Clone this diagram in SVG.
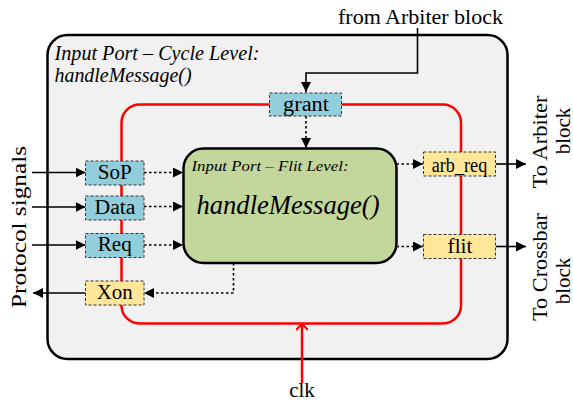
<svg xmlns="http://www.w3.org/2000/svg" width="573" height="402" viewBox="0 0 573 402">
  <style>
    text { font-family: "Liberation Serif", "Times New Roman", serif; fill: #000; }
    .it { font-style: italic; }
    .lbl { font-size: 20px; text-anchor: middle; }
    .ext { font-size: 21px; }
    .reg-blue { fill: #92cddc; stroke: #333; stroke-width: 1; stroke-dasharray: 3 2; }
    .reg-yel { fill: #ffe699; stroke: #333; stroke-width: 1; stroke-dasharray: 3 2; }
    .wire { fill: none; stroke: #000; stroke-width: 1.6; }
    .dot { fill: none; stroke: #000; stroke-width: 1.6; stroke-dasharray: 2.5 2.5; }
  </style>
  <defs>
    <marker id="ah" viewBox="0 0 10 10" refX="10" refY="5" markerWidth="10" markerHeight="10" markerUnits="userSpaceOnUse" orient="auto">
      <path d="M0,0 L10,5 L0,10 z" fill="#000"/>
    </marker>
    <marker id="clkhead" viewBox="0 0 12 12" refX="6" refY="1" markerWidth="12" markerHeight="12" markerUnits="userSpaceOnUse" orient="0">
      <path d="M0,7 L6,1 L12,7" fill="none" stroke="#ff0000" stroke-width="2.2"/>
    </marker>
  </defs>

  <!-- cycle-level input port container -->
  <g id="cycle-port">
    <rect x="47.5" y="35" width="460" height="324" rx="20" ry="20" fill="#f1f1f1" stroke="#000" stroke-width="2.5"/>
    <text class="it" x="54.5" y="60" font-size="20" textLength="205" lengthAdjust="spacingAndGlyphs">Input Port – Cycle Level:</text>
    <text class="it" x="54.5" y="82" font-size="20" textLength="137" lengthAdjust="spacingAndGlyphs">handleMessage()</text>
  </g>

  <!-- clock domain loop -->
  <g id="clock-loop">
    <rect x="121.5" y="104.5" width="339.5" height="219" rx="18" ry="18" fill="none" stroke="#ff0000" stroke-width="2.5"/>
  </g>

  <!-- connectors -->
  <g id="connectors">
    <!-- grant from arbiter -->
    <polyline class="wire" points="417.5,28 417.5,73 306,73 306,92" marker-end="url(#ah)"/>
    <line class="dot" x1="306" y1="116" x2="306" y2="148" marker-end="url(#ah)"/>
    <!-- protocol inputs -->
    <line class="wire" x1="32" y1="172.5" x2="85.5" y2="172.5" marker-end="url(#ah)"/>
    <line class="wire" x1="32" y1="207" x2="85.5" y2="207" marker-end="url(#ah)"/>
    <line class="wire" x1="32" y1="245" x2="85.5" y2="245" marker-end="url(#ah)"/>
    <line class="dot" x1="144" y1="172.5" x2="183" y2="172.5" marker-end="url(#ah)"/>
    <line class="dot" x1="144" y1="206.5" x2="183" y2="206.5" marker-end="url(#ah)"/>
    <line class="dot" x1="144" y1="245" x2="183" y2="245" marker-end="url(#ah)"/>
    <!-- Xon feedback -->
    <polyline class="dot" points="233.5,263 233.5,293 144,293" marker-end="url(#ah)"/>
    <line class="wire" x1="85.5" y1="293" x2="33" y2="293" marker-end="url(#ah)"/>
    <!-- outputs -->
    <line class="dot" x1="396.5" y1="164" x2="423" y2="164" marker-end="url(#ah)"/>
    <line class="dot" x1="396.5" y1="246.5" x2="423" y2="246.5" marker-end="url(#ah)"/>
    <line class="wire" x1="496" y1="164" x2="526" y2="164" marker-end="url(#ah)"/>
    <line class="wire" x1="496" y1="246.5" x2="526" y2="246.5" marker-end="url(#ah)"/>
    <!-- clock input -->
    <line x1="302" y1="383" x2="302" y2="324" stroke="#ff0000" stroke-width="2.5" marker-end="url(#clkhead)"/>
  </g>

  <!-- flit-level core -->
  <g id="flit-core">
    <rect x="183.5" y="148.5" width="213" height="114.5" rx="20" ry="20" fill="#c3d69b" stroke="#000" stroke-width="2.5"/>
    <text class="it" x="191.5" y="170.5" font-size="15" textLength="157" lengthAdjust="spacingAndGlyphs">Input Port – Flit Level:</text>
    <text class="it" x="196.5" y="213.5" font-size="28" textLength="183" lengthAdjust="spacingAndGlyphs">handleMessage()</text>
  </g>

  <!-- registers -->
  <g id="grant">
    <rect class="reg-blue" x="269.5" y="93" width="72" height="23"/>
    <text class="lbl" x="306" y="110.5" textLength="46" lengthAdjust="spacingAndGlyphs">grant</text>
  </g>
  <g id="sop">
    <rect class="reg-blue" x="85.5" y="161" width="58.5" height="24"/>
    <text class="lbl" x="114.7" y="179.3" textLength="34" lengthAdjust="spacingAndGlyphs">SoP</text>
  </g>
  <g id="data">
    <rect class="reg-blue" x="85.5" y="196" width="58.5" height="24"/>
    <text class="lbl" x="115" y="214" textLength="41" lengthAdjust="spacingAndGlyphs">Data</text>
  </g>
  <g id="req">
    <rect class="reg-blue" x="85.5" y="233.5" width="58.5" height="24"/>
    <text class="lbl" x="114.7" y="251" textLength="34" lengthAdjust="spacingAndGlyphs">Req</text>
  </g>
  <g id="xon">
    <rect class="reg-yel" x="85.5" y="281" width="58.5" height="24"/>
    <text class="lbl" x="114.7" y="299.3" textLength="36" lengthAdjust="spacingAndGlyphs">Xon</text>
  </g>
  <g id="arb-req">
    <rect class="reg-yel" x="423.5" y="152" width="72" height="24"/>
    <text class="lbl" x="459.5" y="171.5" font-size="18" textLength="55.5" lengthAdjust="spacingAndGlyphs">arb_req</text>
  </g>
  <g id="flit">
    <rect class="reg-yel" x="423.5" y="234.5" width="72" height="24"/>
    <text class="lbl" x="460" y="252.7" textLength="25" lengthAdjust="spacingAndGlyphs">flit</text>
  </g>

  <!-- external labels -->
  <g id="labels">
    <text class="ext" x="420.5" y="24" text-anchor="middle" textLength="165" lengthAdjust="spacingAndGlyphs">from Arbiter block</text>
    <text class="ext" x="302" y="397" text-anchor="middle">clk</text>
    <text class="ext" transform="translate(26,227) rotate(-90)" text-anchor="middle" textLength="162" lengthAdjust="spacingAndGlyphs">Protocol signals</text>
    <text class="ext" transform="translate(547,142) rotate(-90)" text-anchor="middle" textLength="93" lengthAdjust="spacingAndGlyphs">To Arbiter</text>
    <text class="ext" transform="translate(569.5,131) rotate(-90)" text-anchor="middle">block</text>
    <text class="ext" transform="translate(547,267) rotate(-90)" text-anchor="middle" textLength="108" lengthAdjust="spacingAndGlyphs">To Crossbar</text>
    <text class="ext" transform="translate(569.5,281) rotate(-90)" text-anchor="middle">block</text>
  </g>
</svg>
